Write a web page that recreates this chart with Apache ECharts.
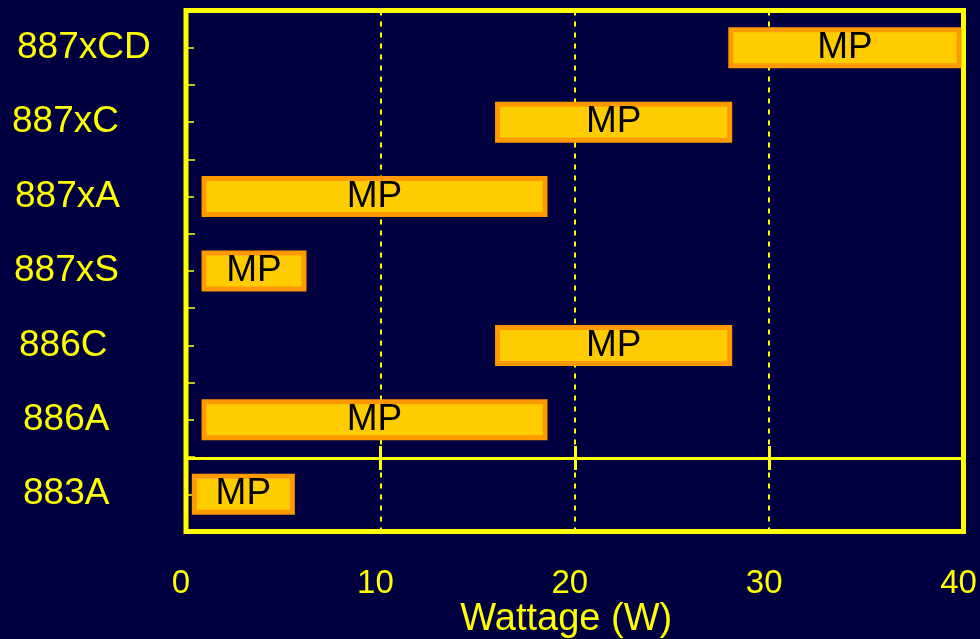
<!DOCTYPE html>
<html>
<head>
<meta charset="utf-8">
<style>
  html, body { margin: 0; padding: 0; background: #000040; }
  #chart { width: 980px; height: 639px; }
</style>
<script src="https://cdn.jsdelivr.net/npm/echarts@6/dist/echarts.min.js"></script>
</head>
<body>
<div id="chart"></div>
<script>
// Categories, bottom to top
const categories = ['883A', '886A', '886C', '887xS', '887xA', '887xC', '887xCD'];
// Wattage range per product (W)
const rangeStart = [0.3, 0.8, 15.9, 0.8, 0.8, 15.9, 27.9];
const rangeEnd   = [5.6, 18.6, 28.1, 6.2, 18.6, 28.1, 39.9];
const barLabel = 'MP';
const xMin = 0, xMax = 40, xInterval = 10;
const axisTitle = 'Wattage (W)';

const rangeLength = rangeEnd.map((e, i) => +(e - rangeStart[i]).toFixed(3));

const YEL = '#FFFF00';
const FONT = 'Liberation Sans, Arial, sans-serif';

// label indents (px) as in the original slide
const labelIndent = { '883A': 11, '886A': 11, '886C': 7, '887xS': 2, '887xA': 3, '887xC': 0, '887xCD': 5 };
const catLabelStyle = { color: YEL, fontSize: 37, fontFamily: FONT, align: 'left' };
const catData = categories.map(c => ({
  value: c,
  textStyle: Object.assign({}, catLabelStyle, { padding: [5, 0, 0, labelIndent[c]] })
}));

const chart = echarts.init(document.getElementById('chart'), null, { renderer: 'canvas' });

const baseX = { type: 'value', min: xMin, max: xMax, interval: xInterval, gridIndex: 0 };

chart.setOption({
  backgroundColor: '#000040',
  animation: false,
  grid: {
    left: 186, right: 16.5, top: 10.5, bottom: 107.5,
    containLabel: false,
    outerBoundsMode: 'none',
    show: true, borderColor: YEL, borderWidth: 5, backgroundColor: 'transparent'
  },
  xAxis: [
    Object.assign({}, baseX, {
      position: 'bottom',
      axisLine: { show: false },
      axisTick: { show: false },
      splitLine: { show: true, lineStyle: { color: YEL, width: 2, type: [5, 6] } },
      axisLabel: { color: YEL, fontSize: 33, fontFamily: FONT, margin: 36, padding: [0, 10, 0, 0] },
      name: axisTitle,
      nameLocation: 'middle',
      nameGap: 69,
      nameMoveOverlap: false,
      nameTextStyle: { color: YEL, fontSize: 38, fontFamily: FONT, padding: [0, 17, 0, 0], verticalAlign: 'top' }
    }),
    Object.assign({}, baseX, {
      position: 'bottom', offset: -73.5,
      axisLine: { show: true, lineStyle: { color: YEL, width: 3 } },
      axisTick: { show: false }, axisLabel: { show: false }, splitLine: { show: false }
    }),
    Object.assign({}, baseX, {
      position: 'bottom', offset: -85.5,
      axisLine: { show: false },
      axisTick: { show: true, inside: false, length: 24, lineStyle: { color: YEL, width: 3 } },
      axisLabel: { show: false }, splitLine: { show: false }
    })
  ],
  yAxis: [
    {
      type: 'category', data: catData, position: 'left',
      axisLine: { show: false },
      axisTick: { show: true, inside: true, length: 9, alignWithLabel: false, lineStyle: { color: YEL, width: 1.5 } },
      axisLabel: Object.assign({}, catLabelStyle, { margin: 174 }),
      splitLine: { show: false }
    },
    {
      type: 'category', data: categories, position: 'left',
      axisLine: { show: false },
      axisTick: { show: true, inside: true, length: 8, alignWithLabel: true, lineStyle: { color: YEL, width: 1.5 } },
      axisLabel: { show: false },
      splitLine: { show: false }
    }
  ],
  series: [
    {
      type: 'bar', stack: 'range', xAxisIndex: 0, yAxisIndex: 0,
      data: rangeStart, barWidth: 41, silent: true,
      itemStyle: { color: 'transparent', borderWidth: 0 }
    },
    {
      type: 'bar', stack: 'range', xAxisIndex: 0, yAxisIndex: 0,
      data: rangeLength, barWidth: 41,
      itemStyle: { color: '#FFCC00', borderColor: '#FF9900', borderWidth: 5 },
      label: {
        show: true, position: 'inside', formatter: barLabel,
        color: '#000000', fontSize: 37, fontFamily: FONT
      }
    }
  ]
});
</script>
</body>
</html>
